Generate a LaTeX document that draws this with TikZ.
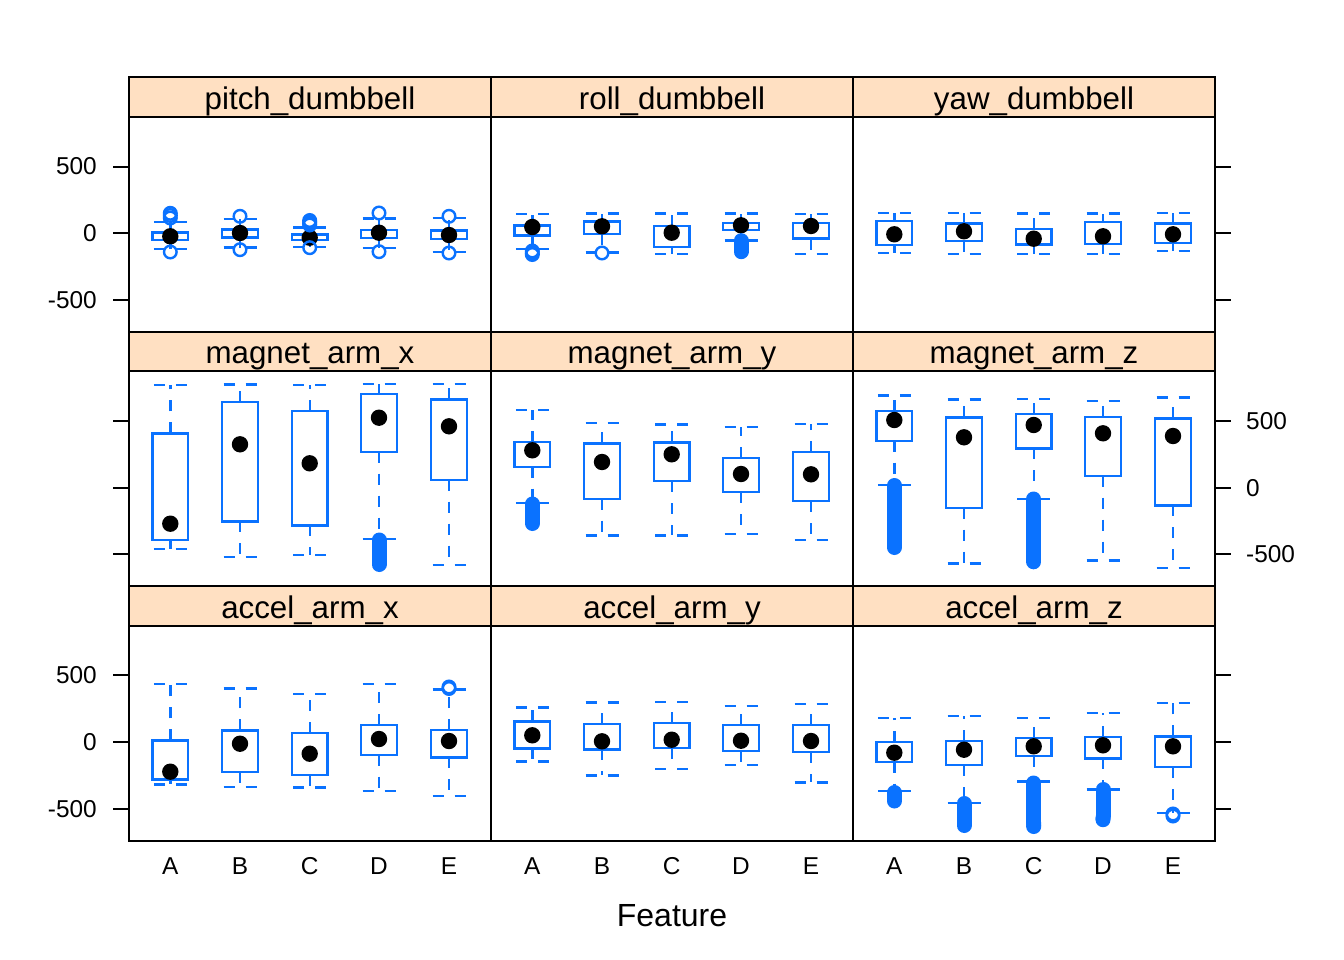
\documentclass[tikz,border=0pt]{standalone}
\usepackage{fontspec}
\setmainfont{Liberation Sans}
\definecolor{bwblue}{HTML}{0A72FF}
\definecolor{stripbg}{HTML}{FFE0C2}
\tikzset{
  boxst/.style={draw=bwblue, line width=2.4pt},
  whisk/.style={draw=bwblue, line width=2.4pt, dash pattern=on 11pt off 11pt},
  frame/.style={draw=black, line width=2pt},
  tick/.style={draw=black, line width=2pt},
  outl/.style={draw=bwblue, line width=2.4pt},
  axlab/.style={font=\fontsize{24.4pt}{26pt}\selectfont, inner sep=0pt},
  striplab/.style={font=\fontsize{31.3pt}{33pt}\selectfont, inner sep=0pt, anchor=base},
  xtitle/.style={font=\fontsize{32pt}{34pt}\selectfont, inner sep=0pt, anchor=base},
}
% cx, capTop, boxTop, med, boxBot, capBot
\newcommand\bwp[6]{%
  \draw[boxst] (#1-17.8,#3) rectangle (#1+17.8,#5);
  \draw[whisk] (#1,#3) -- (#1,#2);
  \draw[whisk] (#1,#5) -- (#1,#6);
  \draw[whisk] (#1-16.5,#2) -- (#1+16.5,#2);
  \draw[whisk] (#1-16.5,#6) -- (#1+16.5,#6);
  \fill[black] (#1,#4) circle (8.2pt);
}
\newcommand\olc[2]{\draw[outl] (#1,#2) circle (6.3pt);}
\newcommand\olcap[3]{\draw[draw=bwblue, line width=15pt, line cap=round] (#1,#2) -- (#1,#3);}
\begin{document}
\begin{tikzpicture}[x=1pt,y=-1pt]
\useasboundingbox (0,0) rectangle (1344,960);
% strips and panels
\foreach \st/\la/\lb/\lc in {77.3/pitch\_dumbbell/roll\_dumbbell/yaw\_dumbbell, 331.7/magnet\_arm\_x/magnet\_arm\_y/magnet\_arm\_z, 586.1/accel\_arm\_x/accel\_arm\_y/accel\_arm\_z}{
  \filldraw[frame, fill=stripbg] (129,\st) rectangle (491,\st+39.4);
  \filldraw[frame, fill=stripbg] (491,\st) rectangle (853,\st+39.4);
  \filldraw[frame, fill=stripbg] (853,\st) rectangle (1215,\st+39.4);
  \draw[frame] (129,\st+39.4) rectangle (491,\st+254.4);
  \draw[frame] (491,\st+39.4) rectangle (853,\st+254.4);
  \draw[frame] (853,\st+39.4) rectangle (1215,\st+254.4);
  \node[striplab] (sa) at (310,\st+32) {\la};
  \node[striplab] (sb) at (672,\st+32) {\lb};
  \node[striplab] (sc) at (1034,\st+32) {\lc};
  \foreach \d in {-66.7,0,66.7}{
    \draw[tick] (113,\st+156+\d) -- (129,\st+156+\d);
    \draw[tick] (1215,\st+156+\d) -- (1231,\st+156+\d);
  }
}
% left axis labels rows 1 and 3
\foreach \z in {233.3,742.1}{
  \node[axlab, anchor=base east] (l1) at (97,\z-66.7+8.4) {500};
  \node[axlab, anchor=base east] (l2) at (97,\z+8.4) {0};
  \node[axlab, anchor=base east] (l3) at (97,\z+66.7+8.4) {-500};
}
% right axis labels row 2
\node[axlab, anchor=base west] (r1) at (1246,421+8.4) {500};
\node[axlab, anchor=base west] (r2) at (1246,487.7+8.4) {0};
\node[axlab, anchor=base west] (r3) at (1246,554.4+8.4) {-500};
% x labels
\foreach \x/\t in {170.3/A,240/B,309.7/C,379/D,449/E,532.3/A,602/B,671.7/C,741/D,811/E,894.3/A,964/B,1033.7/C,1103/D,1173/E}{
  \node[axlab, anchor=base] (xl) at (\x,874) {\t};
}
\node[xtitle] (xt) at (672,926.7) {Feature};

% ---- row 1 ----
\bwp{170.3}{222}{232.7}{236.3}{240.3}{249.3}
\bwp{240}{219}{229.7}{233}{237.7}{247.7}
\bwp{309.7}{227.7}{234.7}{237.7}{240.3}{247.3}
\bwp{379}{218.7}{230.3}{232.7}{238}{248.3}
\bwp{449}{218.3}{230.7}{235}{239.3}{251.7}
\bwp{532.3}{214}{225.7}{227}{235.7}{249.3}
\bwp{602}{213.7}{221.7}{226.3}{234}{252.3}
\bwp{671.7}{213.7}{226.3}{232.7}{247}{254}
\bwp{741}{213.7}{223}{225.3}{230.3}{240.7}
\bwp{811}{214}{223}{226}{238.7}{253.7}
\bwp{894.3}{213}{221}{234.3}{245.3}{253}
\bwp{964}{213}{223.7}{231.3}{241.3}{253.7}
\bwp{1033.7}{213.7}{229.3}{238.7}{244.7}{253.7}
\bwp{1103}{213.7}{222}{236.3}{244.3}{253.7}
\bwp{1173}{213.3}{223.7}{234.3}{243}{251}
% outliers row 1
\olc{170.3}{213.3}\olc{170.3}{215.5}\olc{170.3}{218}\olc{170.3}{252}
\olc{240}{216.3}\olc{240}{249.7}
\olc{309.7}{220.5}\olc{309.7}{222}\olc{309.7}{223.5}\olc{309.7}{225}\olc{309.7}{247.7}
\olc{379}{213}\olc{379}{251.7}
\olc{449}{216.3}\olc{449}{253}
\olc{532.3}{251}\olc{532.3}{253}\olc{532.3}{254.5}
\olc{602}{253}
\olcap{741}{240.7}{251.7}
% ---- row 2 ----
\bwp{170.3}{384.7}{433.3}{523.7}{539.7}{549}
\bwp{240}{384.3}{401.7}{444.3}{521.3}{556.7}
\bwp{309.7}{384.7}{410.7}{463.3}{525.3}{554.7}
\bwp{379}{384}{393.7}{417.7}{451.7}{538.7}
\bwp{449}{383.7}{399.3}{426.3}{479.7}{564.7}
\bwp{532.3}{410}{441.7}{450.3}{466.7}{503}
\bwp{602}{422.7}{443.3}{462}{498.7}{535.3}
\bwp{671.7}{424.3}{442.3}{454.3}{481}{535.3}
\bwp{741}{426.7}{457.7}{474}{492}{533.7}
\bwp{811}{423.7}{452}{474.3}{501}{539.7}
\bwp{894.3}{395.3}{410.7}{420}{440.7}{485}
\bwp{964}{399.3}{417.3}{437.3}{507.7}{563.3}
\bwp{1033.7}{398.7}{413.7}{425}{448.3}{498.7}
\bwp{1103}{401}{417}{433.3}{475.7}{560.3}
\bwp{1173}{397.3}{418.3}{436}{505.3}{567.7}
% outliers row 2
\olcap{379}{540}{564.5}
\olcap{532.3}{504}{523.5}
\olcap{894.3}{485.5}{547.5}
\olcap{1033.7}{499}{561.8}
% ---- row 3 ----
\bwp{170.3}{684}{740.3}{771.7}{779.3}{784.3}
\bwp{240}{688.3}{730.3}{743.7}{772}{786.7}
\bwp{309.7}{693.7}{733}{753.7}{775}{787.3}
\bwp{379}{683.7}{725}{739}{754.7}{791}
\bwp{449}{689.3}{730}{741}{757.3}{796}
\bwp{532.3}{707.3}{721.3}{735.3}{748.3}{761.3}
\bwp{602}{702.3}{723.7}{741.3}{749.3}{775.3}
\bwp{671.7}{701.7}{722.7}{739.7}{748}{769}
\bwp{741}{706}{725}{740.7}{750.7}{764.7}
\bwp{811}{703.7}{724.7}{741}{752}{782.3}
\bwp{894.3}{718}{742}{752.7}{761.7}{790.7}
\bwp{964}{715.7}{740.7}{749.7}{765}{802.7}
\bwp{1033.7}{717.7}{738}{746.3}{756}{781.3}
\bwp{1103}{713}{737}{745.3}{758.3}{789.3}
\bwp{1173}{703}{736.3}{746.3}{767}{812.7}
% outliers row 3
\olc{449}{687}\olc{449}{688.5}
\olcap{894.3}{792.5}{801}
\olcap{964}{803.5}{825.5}
\olcap{1033.7}{783}{822}
\olc{1033.7}{823}\olc{1033.7}{825}\olc{1033.7}{826.5}
\olcap{1103}{789.5}{816}
\olc{1103}{818}\olc{1103}{819.7}
\olc{1173}{814}\olc{1173}{816}
\end{tikzpicture}
\end{document}
